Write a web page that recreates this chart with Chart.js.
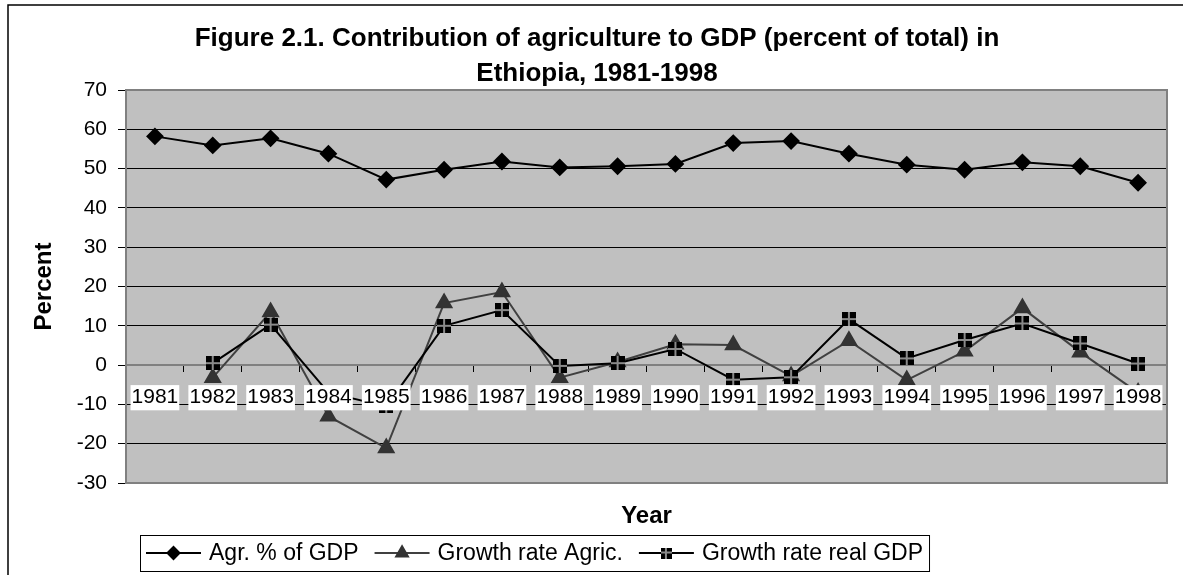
<!DOCTYPE html>
<html>
<head>
<meta charset="utf-8">
<script src="https://cdn.jsdelivr.net/npm/chart.js@4/dist/chart.umd.min.js"></script>
<style>
  body { margin: 0; background: #fff; }
</style>
</head>
<body>
<canvas id="agriChart" width="1183" height="575"></canvas>
<script>
// values
const years = ['1981', '1982', '1983', '1984', '1985', '1986', '1987', '1988', '1989',
               '1990', '1991', '1992', '1993', '1994', '1995', '1996', '1997', '1998'];
const agrShareGdp = [58.2, 55.9, 57.7, 53.8, 47.2, 49.7, 51.8, 50.3, 50.6, 51.2, 56.5, 57.0, 53.8, 51.0, 49.7, 51.6, 50.6, 46.4];
const agrGrowth = [null, -3.2, 13.5, -13.0, -21.1, 15.8, 18.6, -3.2, 0.8, 5.3, 5.1, -2.8, 6.2, -3.8, 3.5, 14.5, 3.3, -7.0];
const gdpGrowth = [null, 0.5, 10.3, -7.0, -10.5, 10.0, 14.0, -0.2, 0.5, 4.1, -3.7, -3.1, 11.7, 1.7, 6.4, 10.6, 5.5, 0.4];
const seriesNames = ['Agr. % of GDP', 'Growth rate Agric.', 'Growth rate real GDP'];
const titleLines = ['Figure 2.1. Contribution of agriculture to GDP (percent of total) in', 'Ethiopia, 1981-1998'];

const FONT = "'Liberation Sans', Arial, sans-serif";

// black square split by a grey cross, like the Excel marker
function crossSquare(size) {
    const c = document.createElement('canvas');
    c.width = size;
    c.height = size;
    const g = c.getContext('2d');
    g.fillStyle = '#000';
    g.fillRect(0, 0, size, size);
    g.fillStyle = '#8a8a8a';
    const m = Math.floor(size / 2) - 1;
    g.fillRect(m, 0, 2, size);
    g.fillRect(0, m, size, 2);
    return c;
}
const squareMarker = crossSquare(14);
const legendMarker = crossSquare(11);

const framePlugin = {
    id: 'frame',
    beforeDraw(chart) {
        const { ctx, chartArea: a } = chart;
        ctx.save();
        ctx.fillStyle = '#fff';
        ctx.fillRect(0, 0, chart.width, chart.height);
        ctx.fillStyle = '#c0c0c0';
        ctx.fillRect(a.left, a.top, a.right - a.left, a.bottom - a.top);
        // outer chart border (only left and top fall inside the picture)
        ctx.strokeStyle = '#000';
        ctx.lineWidth = 1.5;
        ctx.beginPath();
        ctx.moveTo(8, chart.height);
        ctx.lineTo(8, 5);
        ctx.lineTo(chart.width, 5);
        ctx.stroke();
        ctx.restore();
    },
    afterDraw(chart) {
        const { ctx, chartArea: a } = chart;
        ctx.save();
        // grey plot frame
        ctx.strokeStyle = '#808080';
        ctx.lineWidth = 2;
        ctx.beginPath();
        ctx.moveTo(a.left, a.top);
        ctx.lineTo(a.right, a.top);
        ctx.lineTo(a.right, a.bottom);
        ctx.lineTo(a.left, a.bottom);
        ctx.stroke();

        // title
        ctx.fillStyle = '#000';
        ctx.textAlign = 'center';
        ctx.textBaseline = 'middle';
        ctx.font = 'bold 26px ' + FONT;
        ctx.fillText(titleLines[0], 597, 39);
        ctx.fillText(titleLines[1], 597, 74);

        // x axis title
        ctx.font = 'bold 24px ' + FONT;
        ctx.fillText('Year', (a.left + a.right) / 2, 516);

        // legend
        const boxLeft = 140, boxTop = 535, boxH = 36;
        const ly = boxTop + boxH / 2;
        ctx.font = '23px ' + FONT;
        ctx.textAlign = 'left';
        let x = boxLeft + 6;
        chart.data.datasets.forEach((ds, i) => {
            ctx.strokeStyle = ds.borderColor;
            ctx.lineWidth = 2;
            ctx.beginPath();
            ctx.moveTo(x, ly);
            ctx.lineTo(x + 55, ly);
            ctx.stroke();
            ctx.fillStyle = ds.pointBackgroundColor || '#000';
            ctx.strokeStyle = ds.pointBorderColor || '#000';
            Chart.helpers.drawPoint(ctx, {
                pointStyle: i === 2 ? legendMarker : ds.pointStyle,
                radius: ds.pointRadius * 0.8,
                rotation: 0,
                borderWidth: 1
            }, x + 27.5, ly);
            ctx.fillStyle = '#000';
            ctx.fillText(ds.label, x + 63, ly + 1);
            x += 63 + ctx.measureText(ds.label).width + 16;
        });
        ctx.strokeStyle = '#000';
        ctx.lineWidth = 1;
        ctx.strokeRect(boxLeft + 0.5, boxTop + 0.5, x - 16 + 6 - boxLeft, boxH);
        ctx.restore();
    }
};

const ctx = document.getElementById('agriChart').getContext('2d');
new Chart(ctx, {
    type: 'line',
    data: {
        labels: years,
        datasets: [
            {
                label: seriesNames[0],
                data: agrShareGdp,
                borderColor: '#000',
                borderWidth: 2,
                pointStyle: 'rectRot',
                pointRadius: 7.5,
                pointBackgroundColor: '#000',
                pointBorderColor: '#000',
                order: 2
            },
            {
                label: seriesNames[1],
                data: agrGrowth,
                borderColor: '#404040',
                borderWidth: 2,
                pointStyle: 'triangle',
                pointRadius: 8.5,
                pointBackgroundColor: '#333',
                pointBorderColor: '#333',
                order: 1
            },
            {
                label: seriesNames[2],
                data: gdpGrowth,
                borderColor: '#000',
                borderWidth: 2,
                pointStyle: squareMarker,
                pointRadius: 7,
                pointBackgroundColor: '#000',
                pointBorderColor: '#000',
                order: 0
            }
        ]
    },
    options: {
        responsive: false,
        animation: false,
        layout: {
            padding: { top: 90, right: 16, bottom: 92, left: 0 }
        },
        plugins: {
            legend: { display: false },
            tooltip: { enabled: false },
            title: { display: false }
        },
        elements: {
            line: { tension: 0, fill: false }
        },
        scales: {
            x: {
                type: 'category',
                position: { y: 0 },
                offset: true,
                grid: {
                    offset: true,
                    drawOnChartArea: false,
                    tickLength: 6,
                    color: '#000'
                },
                border: { color: '#808080', width: 2 },
                ticks: {
                    z: 1,
                    autoSkip: false,
                    maxRotation: 0,
                    color: '#000',
                    font: { family: FONT, size: 21 },
                    padding: 14,
                    showLabelBackdrop: true,
                    backdropColor: '#fff',
                    backdropPadding: { x: 1, y: 0 }
                }
            },
            y: {
                min: -30,
                max: 70,
                afterFit(scale) { scale.width = 126; },
                grid: {
                    color: '#000',
                    lineWidth: 1,
                    tickLength: 8,
                    tickColor: '#000'
                },
                border: { color: '#808080', width: 2 },
                ticks: {
                    stepSize: 10,
                    color: '#000',
                    font: { family: FONT, size: 21 },
                    padding: 11
                },
                title: {
                    display: true,
                    text: 'Percent',
                    color: '#000',
                    font: { family: FONT, size: 24, weight: 'bold' },
                    padding: { top: 30, bottom: 0 }
                }
            }
        }
    },
    plugins: [framePlugin]
});
</script>
</body>
</html>
